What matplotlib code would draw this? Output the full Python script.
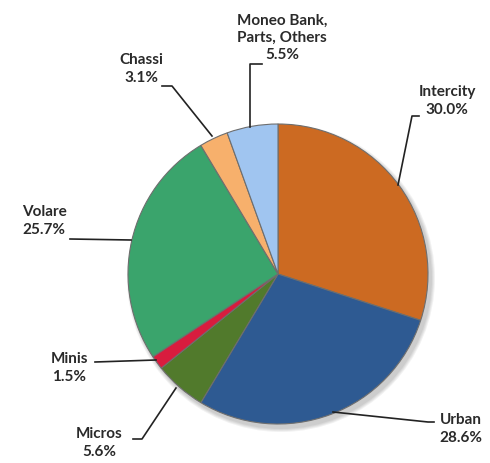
import matplotlib.pyplot as plt
from matplotlib.patches import Circle

labels = ['Intercity', 'Urban', 'Micros', 'Minis', 'Volare', 'Chassi', 'Moneo Bank,\nParts, Others']
shares = [30.0, 28.6, 5.6, 1.5, 25.7, 3.1, 5.5]
colors = ['#cc6a22', '#2e5a92', '#517a2c', '#d81c3e', '#3aa46c', '#f7b06c', '#a0c5f0']

# label text anchor (pixel coords, y from top) and leader line points
label_pos = [(447, 101), (461, 429), (99, 443), (69, 368), (44, 221), (141, 69), (282, 38)]
leaders = [
    [(419, 117), (412, 117), (398, 186)],
    [(333, 413), (428, 423), (434, 423)],
    [(133, 440), (142, 440), (176, 389)],
    [(95, 363), (156, 361)],
    [(70, 240), (131, 241)],
    [(162, 87), (172, 87), (212, 137)],
    [(262, 65), (250, 65), (250, 128)],
]

W, H = 490, 464
fig = plt.figure(figsize=(4.9, 4.64), dpi=100)
ax = fig.add_axes([0, 0, 1, 1])

cx, cy, r = 278, H - 275, 150

# soft shadow
for i, a in enumerate([0.05, 0.05, 0.05, 0.05]):
    ax.add_patch(Circle((cx + 3, cy - 4), r + 4 - i, color='black', alpha=a, lw=0, zorder=0))

wedges, _ = ax.pie(shares, colors=colors, startangle=90, counterclock=False,
                   center=(cx, cy), radius=r, frame=True,
                   wedgeprops=dict(edgecolor='#6e6e6e', linewidth=0.8))
ax.set_xlim(0, W)
ax.set_ylim(0, H)
ax.set_aspect('equal')
ax.axis('off')

for lab, v, (px, py), pts in zip(labels, shares, label_pos, leaders):
    ax.text(px, H - py, f'{lab}\n{v:.1f}%', ha='center', va='center',
            fontsize=11, fontweight='bold', family='Lato', color='#2a2a2a',
            linespacing=1.3)
    ax.plot([p[0] for p in pts], [H - p[1] for p in pts], color='#222222', lw=1.2)

fig.savefig('out.png', dpi=100)
